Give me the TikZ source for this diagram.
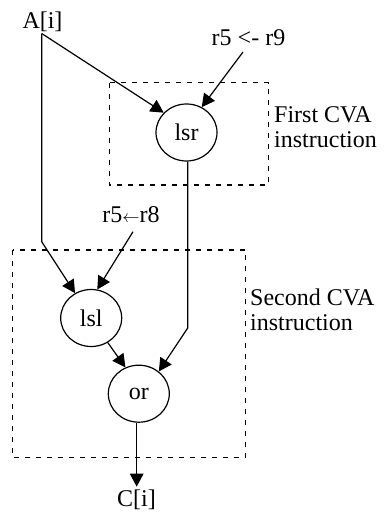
\documentclass[tikz,border=0pt]{standalone}
\usepackage{fontspec}
\setmainfont{Liberation Serif}
\usetikzlibrary{shapes.geometric,arrows.meta}

\begin{document}
\begin{tikzpicture}[x=1pt,y=-1pt,
  every node/.style={font=\fontsize{24}{25}\selectfont},
  label/.style={inner sep=0pt,anchor=base},
  sidelabel/.style={inner sep=0pt,anchor=base west},
  op/.style={draw,ellipse,line width=1.2pt,minimum width=61pt,minimum height=57pt,inner sep=0pt},
  flow/.style={line width=1.2pt,-{Triangle[length=13pt,width=13.5pt]}},
  cvabox/.style={line width=1.1pt,dash pattern=on 5pt off 6pt}]

  \useasboundingbox (0,0) rectangle (387,512);

  % grouping boxes for the two CVA instructions
  \draw[cvabox] (109.3,82.7) rectangle (268.3,185);
  \draw[cvabox] (12.7,250) rectangle (245.7,457.7);

  % inputs and output
  \node[label] (a)  at (42.5,28.5)  {A[i]};
  \node[label] (r9) at (248.5,45)   {r5 <- r9};
  \node[label] (r8) at (131,222.7)  {r5\raisebox{0.5pt}{\fontsize{16}{16}\selectfont$\leftarrow$}r8};
  \node[label] (c)  at (136.5,506.5) {C[i]};

  % operations
  \node[op] (lsr) at (186.5,132.5) {lsr};
  \node[op] (lsl) at (91.2,318)    {lsl};
  \node[op] (or)  at (138.8,393.7) {or};

  % group captions
  \node[sidelabel] (cap1a) at (274,122) {First CVA};
  \node[sidelabel] (cap1b) at (274,147) {instruction};
  \node[sidelabel] (cap2a) at (250,305) {Second CVA};
  \node[sidelabel] (cap2b) at (250,330) {instruction};

  % bend points and free tails
  \coordinate (astart) at (41.7,33.5);
  \coordinate (abend)  at (41.7,241.7);
  \coordinate (rbend)  at (187.7,328);
  \coordinate (r9tail) at (243,52);
  \coordinate (r8tail) at (133,231.7);
  \coordinate (cin)    at (136.7,486.7);

  % data flow
  \draw[flow] (astart) -- (lsr.139);
  \draw[flow] (astart) -- (abend) -- (lsl.123);
  \draw[flow] (r9tail) -- (lsr.59);
  \draw[flow] (r8tail) -- (lsl.78);
  \draw[flow] (lsr.south -| rbend) -- (rbend) -- (or.48);
  \draw[flow] (lsl.-56) -- (or.117);
  \draw[flow] (or.south -| cin) -- (cin);
\end{tikzpicture}
\end{document}
